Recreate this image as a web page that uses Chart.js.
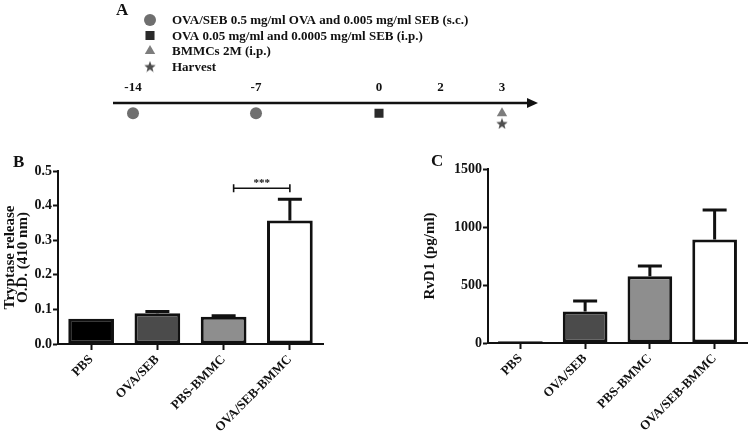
<!DOCTYPE html>
<html><head><meta charset="utf-8">
<script src="https://cdn.jsdelivr.net/npm/chart.js@4.4.1/dist/chart.umd.min.js"></script>
<style>
html,body{margin:0;padding:0;background:#fff;}
#wrap{position:relative;width:750px;height:438px;overflow:hidden;background:#fff;}
canvas{position:absolute;}
.lbl{position:absolute;font:bold 17px 'Liberation Serif',serif;color:#111;line-height:17px;}
</style></head><body>
<div id="wrap">
<canvas id="cA" width="460" height="140" style="left:100px;top:0;width:460px;height:140px"></canvas>
<canvas id="cB" width="340" height="298" style="left:0;top:140px;width:340px;height:298px"></canvas>
<canvas id="cC" width="330" height="298" style="left:420px;top:140px;width:330px;height:298px"></canvas>
<div class="lbl" style="left:116px;top:1px">A</div>
<div class="lbl" style="left:13px;top:153px">B</div>
<div class="lbl" style="left:431px;top:152px">C</div>
</div>
<script>
// ---------- data ----------
const timelineDays = ['-14', '', '-7', '', '0', '2', '3'];
const protocolLabels = [
  'OVA/SEB 0.5 mg/ml OVA and 0.005 mg/ml SEB (s.c.)',
  'OVA 0.05 mg/ml and 0.0005 mg/ml SEB (i.p.)',
  'BMMCs 2M (i.p.)',
  'Harvest'
];
const sensitizationDays = ['-14', '-7'];
const challengeDays = ['0'];
const bmmcDays = ['3'];
const harvestDays = ['3'];
const protocolRows = [1, 1, 1, 2];

const groups = ['PBS', 'OVA/SEB', 'PBS-BMMC', 'OVA/SEB-BMMC'];
const tryptaseMean = [0.073, 0.089, 0.079, 0.357];
const tryptaseSem = [0, 0.005, 0.003, 0.061];
const tryptaseComparison = [2, 3];
const tryptaseBracketLevel = 0.45;
const tryptaseSignificance = '***';
const rvd1Mean = [15, 272, 575, 893];
const rvd1Sem = [0, 90, 89, 254];
const tryptaseTitle = ['Tryptase release', 'O.D. (410 nm)'];
const rvd1Title = 'RvD1 (pg/ml)';

// ---------- styles ----------
const FONT = "'Liberation Serif', 'Times New Roman', serif";
const INK = '#111';
const barColors = ['#000000', '#4b4b4b', '#8e8e8e', '#ffffff'];

function makeStar(size, color) {
  const c = document.createElement('canvas');
  c.width = size; c.height = size;
  const g = c.getContext('2d');
  g.fillStyle = color;
  g.beginPath();
  const cx = size / 2, cy = size / 2 + 0.6, R = size / 2, r = R * 0.42;
  for (let k = 0; k < 10; k++) {
    const a = -Math.PI / 2 + k * Math.PI / 5;
    const rr = k % 2 ? r : R;
    g.lineTo(cx + rr * Math.cos(a), cy + rr * Math.sin(a));
  }
  g.closePath(); g.fill();
  return c;
}
const starImg = makeStar(12, '#4f4f4f');

function pts(days, row) { return days.map(d => ({x: d, y: row})); }

// ---------- panel A plugins ----------
const arrowAxis = {
  id: 'arrowAxis',
  beforeDatasetsDraw(chart) {
    const {ctx, chartArea, scales: {x}} = chart;
    const y = chartArea.top;
    const x0 = x.getPixelForValue(0) - 20;
    const x1 = x.getPixelForValue(timelineDays.length - 1) + 36;
    ctx.save();
    ctx.strokeStyle = INK; ctx.fillStyle = INK; ctx.lineWidth = 2.5;
    ctx.beginPath(); ctx.moveTo(x0, y); ctx.lineTo(x1 - 8, y); ctx.stroke();
    ctx.beginPath(); ctx.moveTo(x1, y); ctx.lineTo(x1 - 11, y - 5); ctx.lineTo(x1 - 11, y + 5); ctx.closePath(); ctx.fill();
    ctx.restore();
  }
};
const protocolLegend = {
  id: 'protocolLegend',
  afterDraw(chart) {
    const ctx = chart.ctx;
    ctx.save();
    chart.data.datasets.forEach((ds, i) => {
      const yy = 20 + i * 15.5;
      ctx.fillStyle = ds.pointBackgroundColor;
      ctx.strokeStyle = ds.pointBackgroundColor;
      Chart.helpers.drawPoint(ctx, {pointStyle: ds.pointStyle, radius: ds.pointRadius, rotation: 0, borderWidth: 0}, 50, yy);
      ctx.fillStyle = INK;
      ctx.font = 'bold 13px ' + FONT;
      ctx.textBaseline = 'middle';
      ctx.textAlign = 'left';
      ctx.fillText(ds.label, 72, yy + 1);
    });
    ctx.restore();
  }
};

new Chart(document.getElementById('cA'), {
  type: 'line',
  data: {
    labels: timelineDays,
    datasets: [
      {label: protocolLabels[0], data: pts(sensitizationDays, protocolRows[0]), pointStyle: 'circle', pointRadius: 6, pointBackgroundColor: '#6f6f6f'},
      {label: protocolLabels[1], data: pts(challengeDays, protocolRows[1]), pointStyle: 'rect', pointRadius: 6.4, pointBackgroundColor: '#2a2a2a'},
      {label: protocolLabels[2], data: pts(bmmcDays, protocolRows[2]), pointStyle: 'triangle', pointRadius: 6, pointBackgroundColor: '#7d7d7d'},
      {label: protocolLabels[3], data: pts(harvestDays, protocolRows[3]), pointStyle: starImg, pointRadius: 6, pointBackgroundColor: '#4f4f4f'}
    ].map(d => Object.assign(d, {showLine: false, pointBorderWidth: 0, pointHoverRadius: d.pointRadius}))
  },
  options: {
    responsive: false, animation: false, events: [],
    layout: {padding: {left: 33, right: 58, top: 78, bottom: 5}},
    plugins: {legend: {display: false}, tooltip: {enabled: false}},
    scales: {
      x: {
        type: 'category', position: 'top', offset: false,
        grid: {display: false, drawTicks: false}, border: {display: false},
        ticks: {autoSkip: false, maxRotation: 0, padding: 8, color: INK, font: {family: FONT, weight: 'bold', size: 13}},
        afterFit(s) { s.height = 25; }
      },
      y: {display: false, reverse: true, min: 0, max: 3}
    }
  },
  plugins: [arrowAxis, protocolLegend]
});

// ---------- panels B & C ----------
const errorBars = {
  id: 'errorBars',
  afterDatasetsDraw(chart) {
    const ctx = chart.ctx, ys = chart.scales.y;
    const ds = chart.data.datasets[0], meta = chart.getDatasetMeta(0);
    ctx.save();
    ctx.strokeStyle = INK; ctx.lineWidth = 3; ctx.lineCap = 'butt';
    ds.errors.forEach((e, i) => {
      if (!e) return;
      const x = meta.data[i].x;
      const y0 = ys.getPixelForValue(ds.data[i]);
      const y1 = ys.getPixelForValue(ds.data[i] + e);
      ctx.beginPath();
      ctx.moveTo(x, y0); ctx.lineTo(x, y1);
      ctx.moveTo(x - 12, y1); ctx.lineTo(x + 12, y1);
      ctx.stroke();
    });
    ctx.restore();
  }
};
const sigBracket = {
  id: 'sigBracket',
  afterDatasetsDraw(chart, args, opts) {
    if (!opts || !opts.pair) return;
    const ctx = chart.ctx, xs = chart.scales.x, ys = chart.scales.y;
    const x1 = xs.getPixelForValue(opts.pair[0]) + 10;
    const x2 = xs.getPixelForValue(opts.pair[1]);
    const y = ys.getPixelForValue(opts.level);
    ctx.save();
    ctx.strokeStyle = INK; ctx.lineWidth = 1.6;
    ctx.beginPath();
    ctx.moveTo(x1, y); ctx.lineTo(x2, y);
    ctx.moveTo(x1, y - 4); ctx.lineTo(x1, y + 4);
    ctx.moveTo(x2, y - 4); ctx.lineTo(x2, y + 4);
    ctx.stroke();
    ctx.fillStyle = INK;
    ctx.font = 'bold 11px ' + FONT;
    ctx.textAlign = 'center'; ctx.textBaseline = 'alphabetic';
    ctx.fillText(opts.text, (x1 + x2) / 2, y - 2);
    ctx.restore();
  }
};

function barChart(id, means, sems, yOpts, padRight, padTop, yWidth, xHeight, title, sig) {
  const tickFont = {family: FONT, weight: 'bold', size: 13};
  return new Chart(document.getElementById(id), {
    type: 'bar',
    data: {
      labels: groups,
      datasets: [{
        data: means, errors: sems,
        backgroundColor: barColors, borderColor: INK, borderWidth: 3, borderSkipped: false,
        barPercentage: 0.69, categoryPercentage: 1
      }]
    },
    options: {
      responsive: false, animation: false, events: [],
      layout: {padding: {left: 0, right: padRight, top: padTop, bottom: 0}},
      plugins: {legend: {display: false}, tooltip: {enabled: false}, sigBracket: sig || {}},
      scales: {
        x: {
          offset: true,
          grid: {display: true, drawOnChartArea: false, drawTicks: true, tickLength: 6, tickWidth: 2, tickColor: INK, color: INK, offset: false},
          border: {display: true, color: INK, width: 2},
          ticks: {autoSkip: false, minRotation: 45, maxRotation: 45, padding: 2, color: INK, font: tickFont},
          afterFit(s) { s.height = xHeight; }
        },
        y: Object.assign({
          beginAtZero: true,
          grid: {display: true, drawOnChartArea: false, drawTicks: true, tickLength: 5, tickWidth: 2, tickColor: INK, color: INK},
          border: {display: true, color: INK, width: 2},
          title: {display: true, text: title, color: INK, font: {family: FONT, weight: 'bold', size: 15, lineHeight: 0.9}, padding: {top: 3, bottom: 0}},
          afterFit(s) { s.width = yWidth; }
        }, yOpts)
      }
    },
    plugins: [errorBars, sigBracket]
  });
}

barChart('cB', tryptaseMean, tryptaseSem,
  {min: 0, max: 0.5, ticks: {stepSize: 0.1, padding: 1, color: INK, font: {family: FONT, weight: 'bold', size: 14}, callback: v => Number(v).toFixed(1)}},
  17, 31, 58, 94, tryptaseTitle,
  {pair: tryptaseComparison, level: tryptaseBracketLevel, text: tryptaseSignificance});

barChart('cC', rvd1Mean, rvd1Sem,
  {min: 0, max: 1500, ticks: {stepSize: 500, padding: 1, color: INK, font: {family: FONT, weight: 'bold', size: 14}, callback: v => String(v)}},
  3, 29, 68, 95, rvd1Title, null);
</script>
</body></html>
